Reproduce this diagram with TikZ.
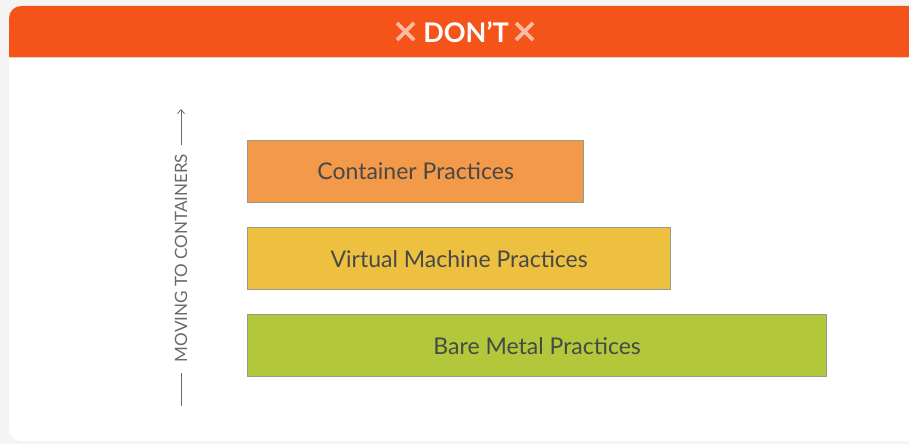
\documentclass[tikz,border=0pt]{standalone}
\usepackage{fontspec}
\setmainfont{Lato}
\usetikzlibrary{arrows.meta}
\definecolor{pagegray}{HTML}{F4F4F4}
\definecolor{headorange}{HTML}{F4541A}
\definecolor{boxorange}{HTML}{F29A4A}
\definecolor{boxyellow}{HTML}{EDC13F}
\definecolor{boxgreen}{HTML}{B3C73A}
\definecolor{boxedge}{HTML}{9A9A8C}
\definecolor{labeltext}{HTML}{484848}
\definecolor{axisgray}{HTML}{6A6A6A}
\tikzset{
  layer/.style={draw=boxedge, line width=1.3pt, anchor=north west, inner sep=0pt,
    font=\fontsize{23}{27}\selectfont, text=labeltext},
  crossmark/.style={draw=white, draw opacity=0.6, line width=3.6pt},
  axisline/.style={draw=axisgray, line width=0.8pt}
}
\begin{document}
\begin{tikzpicture}[x=1pt,y=-1pt]
  % page and card
  \fill[pagegray] (0,0) rectangle (909,444);
  \useasboundingbox (0,0) rectangle (909,444);
  \fill[white, rounded corners=12pt] (9,6) rectangle (940,441);
  \fill[headorange, rounded corners=12pt] (9,6) rectangle (940,40);
  \fill[headorange] (9,30) rectangle (940,57);
  \draw[white!70!headorange, line width=0.8pt] (9,57) -- (909,57);

  % header title with crosses
  \node[text=white, font=\fontsize{27}{30}\bfseries\selectfont, inner sep=0pt] (title) at (466,32) {DON’T};
  \draw[crossmark] (397,23) -- (414,40) (414,23) -- (397,40);
  \draw[crossmark] (516,23) -- (533,40) (533,23) -- (516,40);

  % practice layers
  \node[layer, fill=boxorange, minimum width=336pt, minimum height=62pt] (cont) at (247,140) {Container Practices};
  \node[layer, fill=boxyellow, minimum width=423pt, minimum height=62pt] (vm) at (247,227) {Virtual Machine Practices};
  \node[layer, fill=boxgreen, minimum width=579pt, minimum height=62pt] (bare) at (247,314) {Bare Metal Practices};

  % vertical axis
  \node[rotate=90, text=axisgray, font=\fontsize{17}{20}\selectfont, inner sep=0pt] (axis) at (181,258) {MOVING TO CONTAINERS};
  \coordinate (axtop) at (181,109);
  \coordinate (axbot) at (181,406);
  \draw[axisline, -{Straight Barb[length=4pt,width=7pt]}] ([yshift=9pt]axis.east) -- (axtop);
  \draw[axisline] ([yshift=-11pt]axis.west) -- (axbot);
\end{tikzpicture}
\end{document}
